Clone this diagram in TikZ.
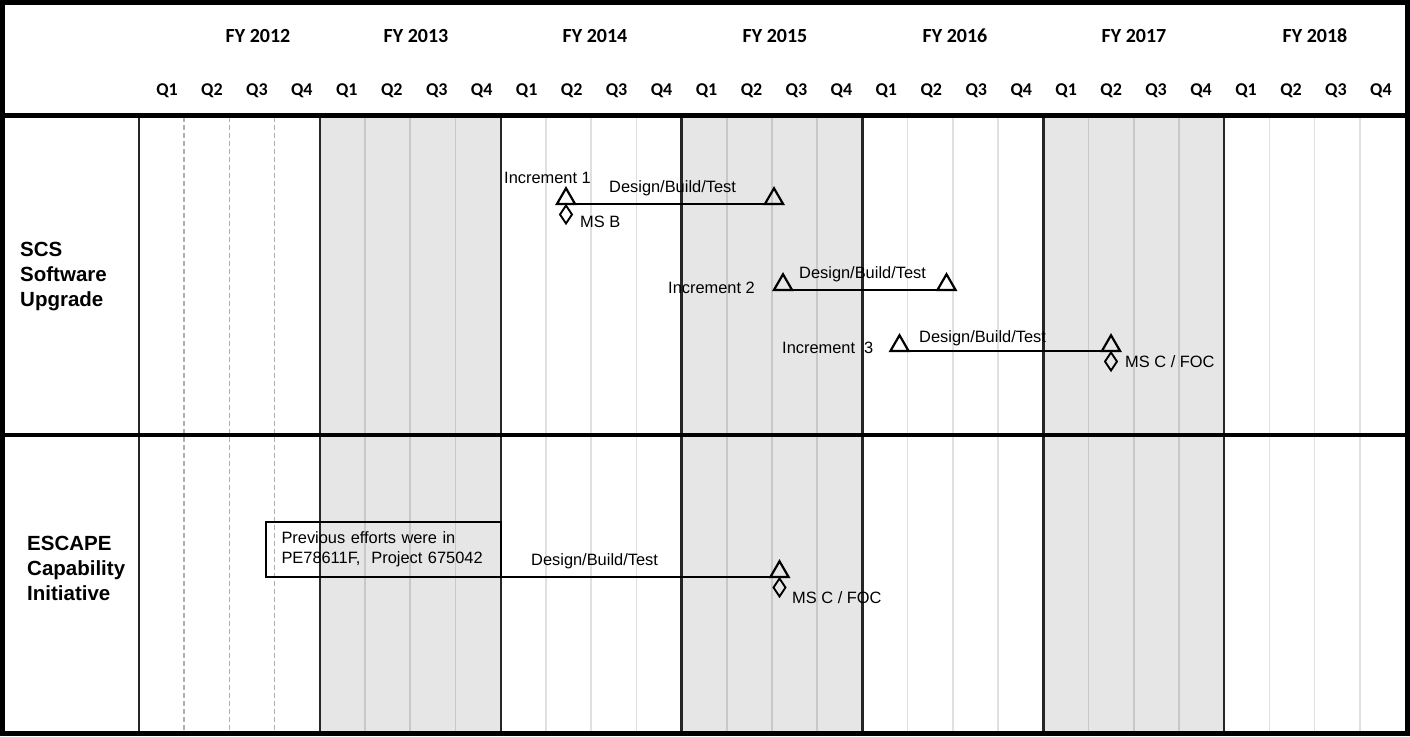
\documentclass[tikz,border=0pt]{standalone}
\usepackage{fontspec}
\setmainfont{Liberation Sans}
\newfontfamily\hdfont{Carlito}
\usetikzlibrary{shapes.geometric}
\definecolor{yearfill}{RGB}{230,230,230}
\definecolor{qdark}{RGB}{200,200,200}
\definecolor{qlight}{RGB}{224,224,224}
\definecolor{qdash}{RGB}{175,175,175}

\begin{document}
\begin{tikzpicture}[x=1pt,y=-1pt,
		tri/.style={draw,regular polygon,regular polygon sides=3,minimum size=21pt,inner sep=0pt,outer sep=0pt,line width=2.2pt},
		dia/.style={draw,diamond,minimum width=12pt,minimum height=18pt,inner sep=0pt,outer sep=0pt,line width=1.9pt},
		lbl/.style={font=\fontsize{16.4}{20}\selectfont,anchor=base west,inner sep=0pt},
		rowlbl/.style={font=\fontsize{20.5}{25}\selectfont\bfseries,anchor=base west,inner sep=0pt,align=left,text width=110pt},
		fy/.style={font=\hdfont\bfseries\fontsize{20}{24}\selectfont,anchor=base,inner sep=0pt},
		qtr/.style={font=\hdfont\bfseries\fontsize{18}{22}\selectfont,anchor=base,inner sep=0pt},
		bar/.style={line width=2pt}]
		\def\yw{180.86}
		\def\qw{45.215}
		\useasboundingbox (0,0) rectangle (1410,736);
		\foreach \k in {1,3,5}
			\fill[yearfill] ({139+\k*\yw},117) rectangle ++(\yw,614);
		\foreach \k in {1,2,3}
			\draw[qdash,line width=1.5pt,dash pattern=on 5pt off 3pt] ({139+\k*\qw},117) -- ++(0,614);
		\foreach \k in {5,6,7,13,14,15,21,22,23}
			\draw[qdark,line width=1.8pt] ({139+\k*\qw},117) -- ++(0,614);
		\foreach \k in {9,10,11,17,18,19,25,26,27}
			\draw[qlight,line width=1.6pt] ({139+\k*\qw},117) -- ++(0,614);
		\foreach \k in {0,...,6}
			\draw[black!85,line width=2.4pt] ({139+\k*\yw},117) -- ++(0,614);
		\draw[line width=5pt] (0,115.5) -- (1410,115.5);
		\draw[line width=4pt] (0,434.7) -- (1410,434.7);
		\foreach \y/\xx in {2012/258,2013/416,2014/595,2015/775,2016/955,2017/1134,2018/1315}
			\node[fy] (fy\y) at (\xx,42) {FY \y};
		\foreach \k in {0,...,27}{
			\pgfmathtruncatemacro\q{mod(\k,4)+1}
			\node[qtr] (q\k) at ({167+44.96*\k},95) {Q\q};
		}
		\node[rowlbl] (scs) at (20,256) {SCS\\Software\\Upgrade};
		\node[rowlbl] (escape) at (27,550) {ESCAPE\\Capability\\Initiative};
		\node[tri,anchor=south] (i1s) at (566,204) {};
		\node[tri,anchor=south] (i1e) at (774,204) {};
		\node[dia,anchor=north] (msb) at ([yshift=-1.5pt]i1s.south) {};
		\draw[bar] (i1s.south) -- (i1e.south);
		\node[lbl] (inc1) at (504,183) {Increment 1};
		\node[lbl] (dbt1) at (609,192) {Design/Build/Test};
		\node[lbl] (msbl) at (580,227) {MS B};
		\node[tri,anchor=south] (i2s) at (783,290) {};
		\node[tri,anchor=south] (i2e) at (946.5,290) {};
		\draw[bar] (i2s.south) -- (i2e.south);
		\node[lbl] (inc2) at (668,293) {Increment 2};
		\node[lbl] (dbt2) at (799,278) {Design/Build/Test};
		\node[tri,anchor=south] (i3s) at (899.5,351) {};
		\node[tri,anchor=south] (i3e) at (1111,351) {};
		\node[dia,anchor=north] (msc) at ([yshift=-1.5pt]i3e.south) {};
		\draw[bar] (i3s.south) -- (i3e.south);
		\node[lbl] (inc3) at (782,353) {Increment\ \ 3};
		\node[lbl] (dbt3) at (919,342) {Design/Build/Test};
		\node[lbl] (mscl) at (1125,367) {MS C / FOC};
		\node[draw,line width=2pt,outer sep=0pt,anchor=north west,minimum width=235pt,minimum height=55pt,
			text width=203pt,inner xsep=16pt,align=left,font=\fontsize{16.4}{20}\selectfont] (prev) at (265.5,522)
			{Previous\ efforts\ were\ in\\PE78611F,\ \ Project\ 675042};
		\node[tri,anchor=south] (e1) at (779.5,577) {};
		\node[dia,anchor=north] (msce) at ([yshift=-1.5pt]e1.south) {};
		\draw[bar] (prev.south east) -- (e1.south);
		\node[lbl] (dbt4) at (531,565) {Design/Build/Test};
		\node[lbl] (mscel) at (792,603) {MS C / FOC};
		\draw[line width=5pt] (2.5,2.5) rectangle (1407.5,733.5);
		\end{tikzpicture}
\end{document}
